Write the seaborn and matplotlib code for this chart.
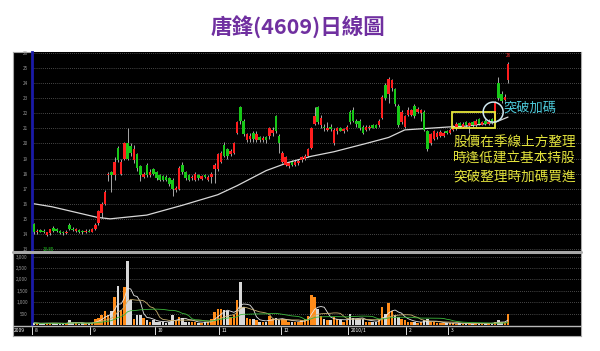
import matplotlib
matplotlib.use('Agg')
import matplotlib.pyplot as plt
import seaborn as sns
import numpy as np
import pandas as pd
from matplotlib.patches import Rectangle, Ellipse
from matplotlib.lines import Line2D

sns.set_theme(style='dark')
plt.rcParams['font.family'] = ['Noto Sans CJK TC', 'DejaVu Sans']

# ---------------- data ----------------
opens = [14.65, 14.1, 14.25, 14.2, 13.95, 14.05, 14.4, 14.35, 14.2, 14.15, 14.05, 14.6, 14.35, 14.2, 14.25, 14.2, 14.1, 14.2,
         14.15, 14.3, 14.7, 15.4, 16.0, 17.9, 18.1, 17.9, 19.7, 18.0, 19.0, 20.0, 19.8, 18.9, 19.3, 18.5, 17.8, 18.6, 17.9, 18.3,
         18.1, 17.9, 17.85, 17.8, 17.7, 17.6, 16.9, 17.0, 18.6, 18.1, 17.9, 17.7, 17.6, 17.9, 17.65, 17.9, 17.6, 17.8, 18.3, 18.3,
         18.8, 19.9, 19.6, 19.3, 19.4, 20.7, 22.4, 21.5, 20.2, 20.3, 20.7, 20.2, 20.4, 20.2, 20.4, 20.5, 20.7, 21.8, 20.5,
         18.8, 18.6, 18.5, 18.75, 18.6, 18.7, 18.9, 18.95, 19.2, 19.7, 21.3, 22.4, 21.2, 21.1, 20.9, 21.1, 20.0, 20.8, 21.0, 20.85, 20.9,
         22.1, 22.2, 21.5, 21.5, 21.1, 20.9, 21.0, 21.2, 21.2, 21.2, 21.7, 23.9, 23.3, 23.7, 23.6, 22.5, 21.4, 21.1,
         21.9, 21.9, 22.5, 22.1, 22.0, 22.1, 20.8, 20.0, 20.3, 20.4, 20.5, 20.5, 20.85,
         20.7, 20.9, 21.0, 21.35, 21.1, 21.4, 21.15, 21.4, 21.2, 21.6, 21.25, 21.5, 21.3, 21.6, 21.4, 24.0, 23.3, 22.9, 24.2]
highs = [14.75, 14.3, 14.3, 14.3, 14.15, 14.35, 14.5, 14.4, 14.25, 14.2, 14.25, 14.7, 14.45, 14.4, 14.3, 14.25, 14.3, 14.3,
         14.4, 14.7, 15.6, 16.1, 16.9, 18.1, 18.2, 19.1, 19.8, 19.0, 20.1, 21.0, 20.0, 19.9, 19.4, 18.6, 18.1, 18.7, 18.3, 18.4,
         18.2, 18.0, 17.9, 17.9, 17.8, 17.7, 17.2, 18.5, 18.8, 18.2, 18.0, 17.9, 18.1, 18.0, 17.9, 18.0, 17.9, 18.1, 18.7, 19.4,
         19.5, 20.1, 19.7, 19.6, 20.1, 21.5, 22.5, 21.6, 20.7, 20.7, 20.8, 20.8, 20.5, 20.5, 20.5, 21.1, 21.1, 21.9, 20.6,
         19.5, 19.2, 18.8, 18.9, 18.9, 19.0, 19.2, 19.3, 19.7, 21.1, 22.4, 22.5, 21.9, 21.3, 21.4, 21.3, 21.0, 21.1, 21.1, 21.0, 21.2,
         22.2, 22.4, 21.6, 21.6, 21.2, 21.2, 21.2, 21.3, 21.3, 21.6, 23.2, 24.0, 24.4, 24.3, 23.7, 22.6, 22.2, 21.9,
         22.4, 22.3, 22.6, 22.4, 22.3, 22.2, 20.9, 20.7, 20.9, 20.8, 20.9, 20.8, 20.9,
         21.0, 21.2, 21.4, 21.4, 21.4, 21.5, 21.45, 21.5, 21.6, 21.7, 21.5, 21.6, 21.6, 21.7, 22.8, 24.4, 23.5, 23.3, 25.4]
lows = [14.0, 14.0, 14.1, 14.05, 13.85, 13.9, 14.1, 14.15, 14.0, 13.95, 14.0, 14.25, 14.2, 14.1, 14.05, 14.0, 14.05, 14.1,
        14.1, 14.25, 14.6, 15.05, 15.9, 17.5, 16.8, 17.6, 18.8, 17.9, 18.9, 18.9, 19.2, 18.7, 18.2, 17.5, 17.7, 17.8, 17.8, 17.9,
        17.6, 17.5, 17.5, 17.5, 17.2, 16.5, 16.8, 16.9, 18.0, 17.6, 17.5, 17.6, 17.5, 17.6, 17.6, 17.7, 17.5, 17.4, 17.4, 18.2,
        18.7, 19.1, 19.0, 19.2, 19.3, 20.6, 21.3, 20.5, 20.1, 20.1, 20.1, 20.1, 20.1, 20.1, 20.0, 20.3, 20.5, 20.7, 19.4,
        18.7, 18.5, 18.4, 18.5, 18.5, 18.6, 18.8, 18.9, 19.1, 19.6, 21.2, 21.3, 21.0, 20.8, 20.8, 20.8, 19.9, 20.6, 20.8, 20.7, 20.8,
        21.3, 21.4, 21.1, 20.9, 20.6, 20.8, 20.9, 21.0, 21.0, 21.1, 21.6, 22.9, 22.7, 23.5, 22.5, 21.1, 21.3, 21.0,
        21.8, 21.8, 21.7, 22.0, 21.5, 20.8, 19.5, 19.9, 20.2, 20.3, 20.4, 20.4, 20.6,
        20.6, 20.8, 20.9, 21.0, 21.0, 21.1, 20.7, 21.1, 21.1, 21.2, 21.2, 21.2, 21.2, 21.3, 21.35, 22.9, 22.7, 22.8, 24.0]
closes = [14.1, 14.2, 14.15, 14.1, 14.1, 14.3, 14.2, 14.2, 14.05, 14.05, 14.15, 14.3, 14.25, 14.3, 14.1, 14.1, 14.2, 14.15,
          14.35, 14.6, 15.5, 16.0, 16.8, 18.0, 17.9, 18.8, 18.9, 18.8, 20.0, 19.0, 19.4, 19.6, 18.4, 17.9, 17.95, 17.9, 18.1, 18.0,
          17.7, 17.6, 17.55, 17.6, 17.3, 16.95, 17.05, 18.4, 18.1, 17.7, 17.6, 17.8, 18.0, 17.7, 17.85, 17.75, 17.8, 18.0, 18.6, 19.3,
          19.4, 19.2, 19.2, 19.5, 20.0, 21.4, 21.5, 20.6, 20.6, 20.5, 20.3, 20.6, 20.25, 20.35, 20.2, 21.0, 20.9, 20.8, 20.0,
          19.4, 19.1, 18.7, 18.6, 18.75, 18.85, 19.1, 19.2, 19.6, 21.0, 21.8, 21.4, 21.7, 21.0, 21.05, 20.95, 20.9, 21.0, 20.85, 20.95, 21.1,
          21.4, 21.5, 21.3, 21.0, 20.7, 21.1, 21.1, 21.05, 21.05, 21.5, 23.1, 23.0, 24.3, 24.2, 22.6, 21.2, 22.1, 21.8,
          22.2, 22.2, 21.8, 22.3, 22.2, 20.9, 19.6, 20.6, 20.8, 20.7, 20.75, 20.7, 20.7,
          20.9, 21.1, 21.3, 21.15, 21.3, 21.2, 21.35, 21.2, 21.5, 21.3, 21.4, 21.3, 21.45, 21.35, 22.7, 23.0, 22.8, 23.1, 25.3]
volumes = [90, 70, 60, 80, 100, 80, 70, 60, 60, 70, 80, 220, 90, 70, 60, 70, 80, 90,
           100, 250, 300, 450, 600, 430, 600, 1250, 1700, 650, 1650, 2800, 1100, 250, 450, 450, 300, 200, 150, 200,
           150, 120, 150, 100, 150, 430, 200, 370, 300, 150, 150, 120, 150, 100, 100, 120, 150, 250, 580, 690,
           700, 680, 600, 350, 450, 1100, 1900, 800, 300, 250, 250, 200, 150, 150, 150, 390, 250, 300, 200,
           250, 250, 150, 150, 120, 150, 200, 250, 400, 1310, 1240, 700, 400, 250, 200, 200, 350, 250, 200, 150, 200,
           480, 300, 250, 250, 250, 150, 150, 150, 150, 250, 790, 500, 950, 600, 450, 350, 250, 200,
           150, 150, 120, 100, 120, 200, 250, 150, 120, 100, 100, 80, 80,
           70, 80, 60, 70, 60, 70, 80, 60, 70, 80, 60, 70, 80, 90, 150, 200, 120, 100, 500]

# quarterly moving average line (vertices)
ma_idx = [0, 5.6, 19.6, 23.6, 35, 46, 57, 63, 72, 79, 86, 93, 103, 110, 115, 129, 134, 143, 147]
ma_val = [16.0, 15.8, 15.1, 15.0, 15.25, 15.9, 16.6, 17.2, 18.2, 18.75, 19.15, 19.45, 20.0, 20.4, 20.9, 21.1, 21.15, 21.4, 21.75]

month_start = [0, 18, 38, 58, 77, 98, 116, 129]
month_labels = ['8', '9', '10', '11', '12', '2010/1', '2', '3']
price_ticks = list(range(13, 27))
vol_ticks = [500, 1000, 1500, 2000, 2500, 3000]
vol_tick_labels = ['500', '1,000', '1,500', '2,000', '2,500', '3,000']

title = '唐鋒(4609)日線圖'
note_lines = ['股價在季線上方整理', '時逢低建立基本持股', '突破整理時加碼買進']
break_label = '突破加碼'

# ---------------- layout helpers ----------------
W, H = 600, 351
fig = plt.figure(figsize=(6, 3.51), dpi=100)
fig.patch.set_facecolor('white')

def fx(px):
    return px / W

def fy(py):
    return 1 - py / H

df = pd.DataFrame({'o': opens, 'h': highs, 'l': lows, 'c': closes, 'v': volumes})
df['i'] = np.arange(len(df))
up = df['c'] >= df['o']
px_per_i = 3.224
xl = (0 - 2 / px_per_i, 147 + 73 / px_per_i)

# black background panel (behind the axes)
bg_ax = fig.add_axes([fx(13), fy(336), fx(581) - fx(13), fy(52) - fy(336)], zorder=-5)
bg_ax.set_facecolor('black')
bg_ax.set_xticks([])
bg_ax.set_yticks([])
bg_ax.grid(False)
for s in bg_ax.spines.values():
    s.set_color('#A8A8A8')
    s.set_linewidth(0.8)

# ---------------- price panel ----------------
ax = fig.add_axes([fx(32), fy(250), fx(581) - fx(32), fy(52) - fy(250)])
ax.set_facecolor('black')
ax.set_xlim(*xl)
ax.set_ylim(13 - 1 / 15.08, 26 + 1 / 15.08)
ax.set_yticks(price_ticks)
ax.set_yticklabels([str(t) for t in price_ticks])
ax.tick_params(axis='y', colors='#9A9A9A', labelsize=3.3, length=0, pad=3)
ax.set_xticks([])
ax.yaxis.grid(True, color='#8A8A8A', linestyle=(0, (1, 2)), lw=0.5)
ax.xaxis.grid(False)
for s in ['top', 'right', 'bottom']:
    ax.spines[s].set_visible(False)
ax.spines['left'].set_color('#1A1AA8')
ax.spines['left'].set_linewidth(2)

ax.vlines(df['i'], df['l'], df['h'], color='#A8A8A8', lw=0.7, zorder=2)
body = (df['c'] - df['o']).abs().clip(lower=0.05)
bottom = np.minimum(df['o'], df['c'])
colors = np.where(up, '#FF1E1E', '#18C818')
ax.bar(df['i'], body, bottom=bottom, width=0.78, color=colors, lw=0, zorder=3)

ma_df = pd.DataFrame({'i': ma_idx, 'ma': ma_val})
sns.lineplot(data=ma_df, x='i', y='ma', ax=ax, color='#D8D8D8', lw=0.9, zorder=2, sort=False)
ax.set_xlabel('')
ax.set_ylabel('')

# annotations
ax.add_patch(Rectangle((129.6, 21.02), 143.0 - 129.6, 22.08 - 21.02, fill=False,
                       edgecolor='#E8E83A', lw=1.3, zorder=5))
ax.add_patch(Ellipse((142.4, 22.08), 20 / px_per_i, 20 / 15.08, fill=False,
                     edgecolor='#CFE8F0', lw=1.1, zorder=5))
ax.text(145.5, 22.35, break_label, color='#4CC8D8', fontsize=9.5, ha='left', va='center', zorder=6)
for line, py in zip(note_lines, [142, 159, 177]):
    ax.text(130.0, 13 + (249 - py) / 15.08, line, color='#E4E43C', fontsize=9.8,
            ha='left', va='center', zorder=6)
ax.text(147, 25.85, '26', color='#FF3030', fontsize=3.3, ha='center', va='center')
ax.text(4.5, 13.0, '13.85', color='#20D020', fontsize=3.3, ha='center', va='center')

# ---------------- volume panel ----------------
vax = fig.add_axes([fx(32), fy(325), fx(581) - fx(32), fy(253) - fy(325)])
vax.set_facecolor('black')
vax.set_xlim(*xl)
vax.set_ylim(0, 3160)
vax.set_yticks(vol_ticks)
vax.set_yticklabels(vol_tick_labels)
vax.tick_params(axis='y', colors='#9A9A9A', labelsize=3.3, length=0, pad=3)
vax.set_xticks([])
vax.yaxis.grid(True, color='#8A8A8A', linestyle=(0, (1, 2)), lw=0.5)
vax.xaxis.grid(False)
for s in ['top', 'right', 'bottom']:
    vax.spines[s].set_visible(False)
vax.spines['left'].set_color('#1A1AA8')
vax.spines['left'].set_linewidth(2)
vcolors = np.where(up, '#FF8C1A', '#D8D8D8')
vax.bar(df['i'], df['v'], width=0.78, color=vcolors, lw=0, zorder=3)
for win, col in [(5, '#E8E8E8'), (10, '#C8B070'), (20, '#3CB83C')]:
    mdf = pd.DataFrame({'i': df['i'], 'm': df['v'].rolling(win, min_periods=1).mean()})
    sns.lineplot(data=mdf, x='i', y='m', ax=vax, color=col, lw=0.6, zorder=4)
vax.set_xlabel('')
vax.set_ylabel('')

# separator between panels
fig.add_artist(Line2D([fx(13), fx(581)], [fy(251.5), fy(251.5)], color='#A8A8A8', lw=2.2))

# ---------------- date bar ----------------
dax = fig.add_axes([fx(32), fy(335), fx(581) - fx(32), fy(326.5) - fy(335)])
dax.set_facecolor('black')
dax.set_xlim(*xl)
dax.set_ylim(0, 1)
dax.set_xticks([])
dax.set_yticks([])
dax.grid(False)
for s in dax.spines.values():
    s.set_visible(False)
for ms, lab in zip(month_start, month_labels):
    dax.axvline(ms - 0.5, color='#E0E0E0', lw=0.7)
    dax.text(ms + 0.3, 0.5, lab, color='white', fontsize=3.6, ha='left', va='center')
fig.add_artist(Line2D([fx(13), fx(581)], [fy(326), fy(326)], color='#B8B8B8', lw=1.0))
fig.text(fx(14), fy(330.5), '2009', color='white', fontsize=3.6, ha='left', va='center')

# ---------------- title ----------------
fig.text(fx(298), fy(27), title, color='#7030A0', fontsize=15.5, fontweight='bold',
         ha='center', va='center')

fig.savefig('out.png', dpi=100, facecolor='white')
